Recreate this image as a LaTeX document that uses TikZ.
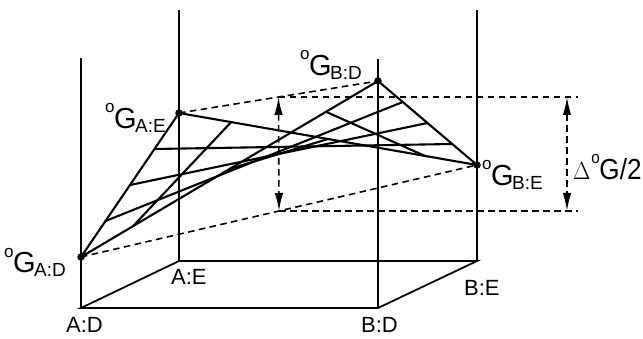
\documentclass[tikz,border=0pt]{standalone}
\usepackage{fontspec}
\setmainfont{Liberation Sans}
\usetikzlibrary{arrows.meta,calc}
\newcommand\osup{\raisebox{16pt}{\fontsize{17}{17}\selectfont o}}
\newcommand\gsym[1]{\osup\kern-0.5pt G\kern-1.5pt\raisebox{-4pt}{\fontsize{19}{19}\selectfont #1}}
\begin{document}
\begin{tikzpicture}[x=1pt,y=-1pt,
  boxline/.style={line width=1.8pt},
  vline/.style={line width=1.5pt},
  surf/.style={line width=2.1pt},
  dsh/.style={line width=1.6pt,dash pattern=on 6.5pt off 4.5pt},
  dotnode/.style={circle,fill=black,inner sep=0pt,minimum size=7.5pt},
  glab/.style={font=\fontsize{29}{29}\selectfont,inner sep=0pt,anchor=base west},
  blab/.style={font=\fontsize{22}{22}\selectfont,inner sep=0pt,anchor=base west},
  dart/.style={dsh,{Latex[length=18pt,width=8.5pt]}-{Latex[length=18pt,width=8.5pt]}}]
\useasboundingbox (0,0) rectangle (643,339);
% base box corners
\coordinate (bAD) at (81,308);
\coordinate (bAE) at (179,261);
\coordinate (bBD) at (378,308);
\coordinate (bBE) at (477,261);
\coordinate (tAD) at (81,58);
\coordinate (tAE) at (179,10);
\coordinate (tBD) at (378,59);
\coordinate (tBE) at (477,10);
% surface corners
\node[dotnode] (gad) at (81,257) {};
\node[dotnode] (gae) at (179,113) {};
\node[dotnode] (gbd) at (378,81) {};
\node[dotnode] (gbe) at (477,165) {};
% box
\draw[vline] (tAD) -- (bAD);
\draw[vline] (tBD) -- (bBD);
\draw[vline] (tAE) -- (bAE);
\draw[vline] (tBE) -- (bBE);
\draw[boxline,line join=miter] (bAE) -- (bAD) -- (bBD) -- (bBE) -- cycle;
% surface edges
\draw[surf,line join=round] (gad.center) -- (gae.center) -- (gbe.center) -- (gbd.center) -- cycle;
% family 1 (fixed v)
\foreach \v in {0.25,0.5,0.75}{
  \draw[surf] ($(gad.center)!\v!(gae.center)$) -- ($(gbd.center)!\v!(gbe.center)$);
}
% family 2 (fixed u)
\foreach \u in {0.175,0.5,0.825}{
  \draw[surf] ($(gad.center)!\u!(gbd.center)$) -- ($(gae.center)!\u!(gbe.center)$);
}
% dashed diagonals
\draw[dsh] (gae.center) -- (gbd.center);
\draw[dsh] (gad.center) -- (gbe.center);
\coordinate (m1) at ($(gae.center)!0.5!(gbd.center)$);
\coordinate (m2) at ($(gad.center)!0.5!(gbe.center)$);
\coordinate (r1) at (578,97);
\coordinate (r2) at (578,211);
\draw[dsh] (m1) -- (m1 -| r1) -- (r1);
\draw[dsh] (m2) -- (r2);
\draw[dart] (m1) -- (m2);
\coordinate (a1) at (567,97);
\coordinate (a2) at (567,211);
\draw[dart] (a1) -- (a2);
% labels
\node[glab] (lad) at (4,273) {\gsym{A:D}};
\node[glab] (lae) at (105,129) {\gsym{A:E}};
\node[glab] (lbd) at (300,76) {\gsym{B:D}};
\node[glab] (lbe) at (482,186) {\gsym{B:E}};
\node[glab] (ldel) at (573,180) {\scalebox{0.9}[1]{$\Delta$\kern1pt\osup\kern-0.5pt G/2}};
\node[blab] (nad) at (66,333) {A:D};
\node[blab] (nae) at (171,285) {A:E};
\node[blab] (nbd) at (361,333) {B:D};
\node[blab] (nbe) at (464,295) {B:E};
\end{tikzpicture}
\end{document}
